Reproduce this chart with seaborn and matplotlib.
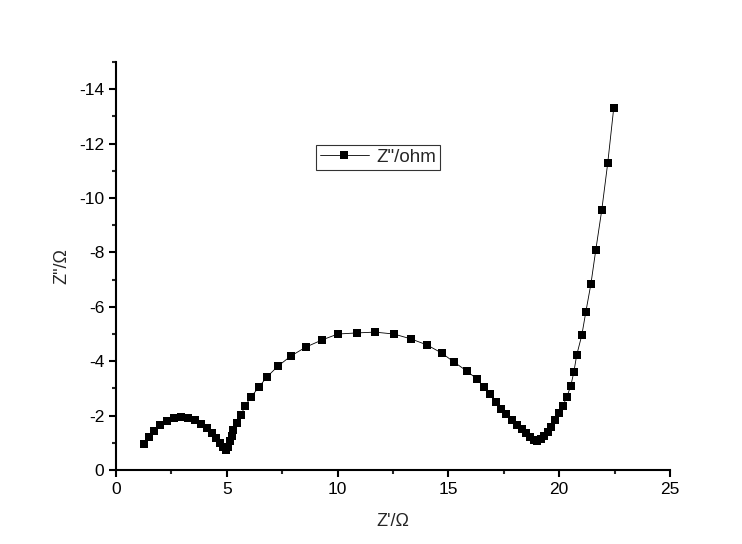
import numpy as np
import pandas as pd
import matplotlib
matplotlib.use('Agg')
import matplotlib.pyplot as plt
from matplotlib.ticker import MultipleLocator, FuncFormatter
import seaborn as sns

# Nyquist data (Z' in ohm, Z'' in ohm)
z_real = [1.26, 1.49, 1.71, 1.98, 2.30, 2.62, 2.93, 3.25, 3.56, 3.83, 4.10, 4.33,
          4.51, 4.69, 4.83, 4.96, 5.05, 5.14, 5.23, 5.30, 5.46, 5.64, 5.82, 6.09,
          6.45, 6.81, 7.31, 7.89, 8.57, 9.29, 10.01, 10.87, 11.68, 12.54, 13.31,
          14.03, 14.70, 15.25, 15.83, 16.28, 16.60, 16.87, 17.14, 17.37, 17.59,
          17.86, 18.09, 18.31, 18.49, 18.67, 18.85, 18.99, 19.17, 19.31, 19.49,
          19.62, 19.80, 19.98, 20.16, 20.34, 20.52, 20.66, 20.79, 21.02, 21.20,
          21.43, 21.65, 21.92, 22.19, 22.46]
z_imag = [-0.96, -1.21, -1.43, -1.65, -1.80, -1.91, -1.95, -1.91, -1.84, -1.69,
          -1.54, -1.36, -1.18, -0.99, -0.83, -0.74, -0.85, -1.07, -1.25, -1.47,
          -1.73, -2.02, -2.35, -2.68, -3.05, -3.42, -3.82, -4.19, -4.52, -4.78,
          -5.00, -5.04, -5.07, -5.00, -4.82, -4.60, -4.30, -3.97, -3.64, -3.35,
          -3.05, -2.79, -2.50, -2.24, -2.06, -1.84, -1.65, -1.51, -1.36, -1.21,
          -1.10, -1.07, -1.14, -1.25, -1.40, -1.58, -1.84, -2.10, -2.35, -2.68,
          -3.09, -3.60, -4.23, -4.96, -5.81, -6.84, -8.09, -9.56, -11.29, -13.31]

df = pd.DataFrame({'x': z_real, 'y': z_imag})

sns.set_style('white')
plt.rcParams['font.family'] = ['Liberation Sans', 'DejaVu Sans']

fig = plt.figure(figsize=(7.42, 5.44), dpi=100)
ax = fig.add_axes([0.1563, 0.136, 0.7467, 0.75])

sns.lineplot(data=df, x='x', y='y', sort=False, estimator=None, ax=ax,
             color='black', linewidth=0.6, marker='s', markersize=5.3,
             markeredgewidth=0, label='Z"/ohm')

ax.set_xlim(0, 25)
ax.set_ylim(0, -15)
ax.xaxis.set_major_locator(MultipleLocator(5))
ax.xaxis.set_minor_locator(MultipleLocator(2.5))
ax.yaxis.set_major_locator(MultipleLocator(2))
ax.yaxis.set_minor_locator(MultipleLocator(1))
ax.yaxis.set_major_formatter(FuncFormatter(lambda v, p: f'{v:g}' if v != 0 else '0'))
ax.xaxis.set_major_formatter(FuncFormatter(lambda v, p: f'{v:g}'))

for s in ['top', 'right']:
    ax.spines[s].set_visible(False)
for s in ['left', 'bottom']:
    ax.spines[s].set_color('black')
    ax.spines[s].set_linewidth(1.5)

ax.tick_params(axis='both', which='major', direction='out', length=5, width=1.5,
               labelsize=12.5, colors='black', bottom=True, left=True)
ax.tick_params(axis='both', which='minor', direction='out', length=3, width=1.5,
               bottom=True, left=True)

ax.set_xlabel("Z'/Ω", fontsize=13, labelpad=12)
ax.set_ylabel('Z"/Ω', fontsize=13, labelpad=6)

leg = ax.legend(loc='upper left', bbox_to_anchor=(316 / 742, 1 - 145 / 544),
                bbox_transform=fig.transFigure, fontsize=13.5, frameon=True,
                fancybox=False, borderpad=0.2, handlelength=2.6,
                handletextpad=0.4, borderaxespad=0)
leg.get_frame().set_edgecolor('black')
leg.get_frame().set_linewidth(0.8)

fig.savefig('out.png', dpi=100)
